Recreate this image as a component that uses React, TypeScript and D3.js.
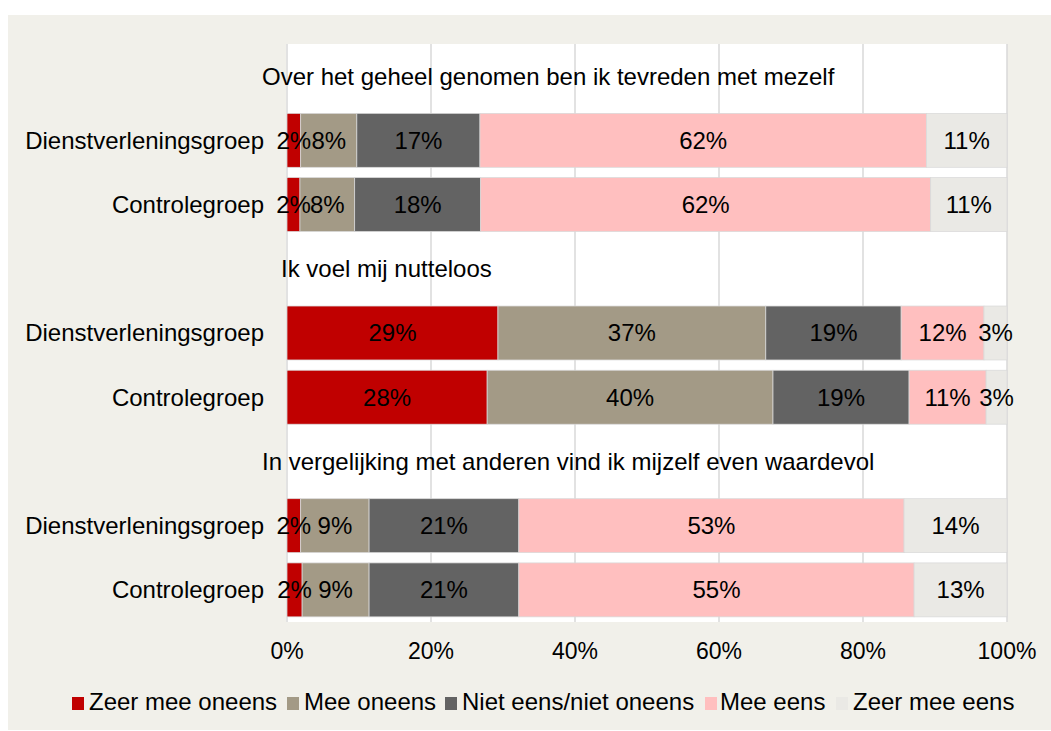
import React from "react";
import * as d3 from "d3";

const questions = [
  "Over het geheel genomen ben ik tevreden met mezelf",
  "Ik voel mij nutteloos",
  "In vergelijking met anderen vind ik mijzelf even waardevol",
];
const groups = ["Dienstverleningsgroep", "Controlegroep"];

// per row: Q1 dienst, Q1 controle, Q2 dienst, Q2 controle, Q3 dienst, Q3 controle
const zeerOneens = [1.9, 1.8, 29.3, 27.8, 1.9, 2.1];
const meeOneens = [7.8, 7.6, 37.2, 39.7, 9.5, 9.3];
const neutraal = [17.1, 17.5, 18.8, 18.9, 20.8, 20.8];
const meeEens = [62.0, 62.5, 11.5, 10.7, 53.5, 54.9];
const zeerEens = [11.2, 10.6, 3.2, 2.9, 14.3, 12.9];

const labels = [
  ["2%", "2%", "29%", "28%", "2%", "2%"],
  ["8%", "8%", "37%", "40%", "9%", "9%"],
  ["17%", "18%", "19%", "19%", "21%", "21%"],
  ["62%", "62%", "12%", "11%", "53%", "55%"],
  ["11%", "11%", "3%", "3%", "14%", "13%"],
];

const seriesNames = ["Zeer mee oneens", "Mee oneens", "Niet eens/niet oneens", "Mee eens", "Zeer mee eens"];
const colors = ["#c00000", "#a39a86", "#636363", "#ffbfbf", "#eae9e5"];
const ticks = [0, 20, 40, 60, 80, 100];

const font = "'Liberation Sans', Arial, sans-serif";

const App = () => {
  const series = [zeerOneens, meeOneens, neutraal, meeEens, zeerEens];

  // 9 slots: title + 2 groups per question
  const slots: string[] = [];
  questions.forEach((q, i) => {
    slots.push("t" + i);
    groups.forEach((g, j) => slots.push("r" + (i * 2 + j)));
  });

  const x = d3.scaleLinear().domain([0, 100]).range([287, 1007]);
  const y = d3.scaleBand<string>().domain(slots).range([44, 622]).paddingInner(0.16).paddingOuter(0.08);

  const rows = d3.range(6).map((r) => {
    let acc = 0;
    return series.map((s, k) => {
      const x0 = acc;
      acc += s[r];
      return { k, x0, x1: acc, label: labels[k][r] };
    });
  });

  const titleX = [262, 281, 262];
  const legendItems = [
    { mx: 72, tx: 89 },
    { mx: 287, tx: 304 },
    { mx: 445, tx: 462 },
    { mx: 705, tx: 720 },
    { mx: 836, tx: 853 },
  ];

  return (
    <svg width={1051} height={731} style={{ position: "absolute", left: 0, top: 0 }} fontFamily={font}>
      <rect x={0} y={0} width={1051} height={731} fill="#ffffff" />
      <rect x={8} y={15} width={1043} height={715} fill="#f1f0ea" />
      <rect x={286} y={44} width={721} height={578} fill="#ffffff" />
      {ticks.map((t) => (
        <line key={t} x1={x(t)} x2={x(t)} y1={44} y2={622} stroke="#d9d9d9" strokeWidth={1.5} />
      ))}
      {ticks.map((t) => (
        <text key={"l" + t} x={x(t)} y={659} fontSize={23} textAnchor="middle" fill="#000">
          {t + "%"}
        </text>
      ))}
      {questions.map((q, i) => (
        <text key={q} x={titleX[i]} y={(y("t" + i) as number) + y.bandwidth() / 2} dy="0.35em" fontSize={24} fill="#000">
          {q}
        </text>
      ))}
      {rows.map((segs, r) => {
        const key = "r" + r;
        const y0 = y(key) as number;
        const h = y.bandwidth();
        return (
          <g key={key}>
            <text x={264} y={y0 + h / 2} dy="0.35em" fontSize={24} textAnchor="end" fill="#000">
              {groups[r % 2]}
            </text>
            {segs.map((s) => (
              <rect
                key={s.k}
                x={x(s.x0)}
                y={y0}
                width={x(s.x1) - x(s.x0)}
                height={h}
                fill={colors[s.k]}
                stroke="#d9d9d9"
                strokeWidth={0.75}
              />
            ))}
            {segs.map((s) => (
              <text
                key={"t" + s.k}
                x={(x(s.x0) + x(s.x1)) / 2}
                y={y0 + h / 2}
                dy="0.35em"
                fontSize={24}
                textAnchor="middle"
                fill="#000"
              >
                {s.label}
              </text>
            ))}
          </g>
        );
      })}
      {seriesNames.map((n, i) => (
        <g key={n}>
          <rect x={legendItems[i].mx} y={697} width={12} height={13} fill={colors[i]} />
          <text x={legendItems[i].tx} y={710} fontSize={24} fill="#000">
            {n}
          </text>
        </g>
      ))}
    </svg>
  );
};

export default App;
